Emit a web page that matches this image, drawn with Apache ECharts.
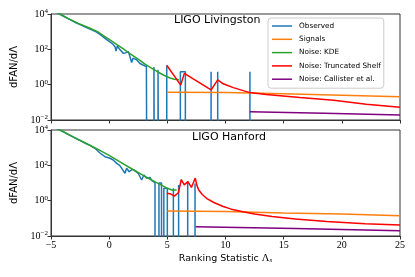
<!DOCTYPE html>
<html><head><meta charset="utf-8">
<script src="https://cdn.jsdelivr.net/npm/echarts@6/dist/echarts.min.js"></script>
<style>html,body{margin:0;padding:0;background:#fff}#c{width:415px;height:277px}</style>
</head><body><div id="c"></div>
<script>
// ZERO marks an empty histogram bin (drawn as a drop below the axis, like matplotlib's clipped log of 0)
const ZERO = 1e-30;

// ---------- LIGO Livingston (top) ----------
const obsL_x = [-5,-4.5,-4,-3.5,-3,-2.5,-2,-1.5,-1.08,-0.7,-0.36,0,0.3,0.5,0.59,0.7,0.9,1.05,1.22,1.4,1.55,1.65,1.79,1.93,2.05,2.2,2.37,2.5,2.65,2.8,2.95,3.08,3.2,3.37,3.37,
  3.85,3.85,3.92,4.0,4.0, 4.2,4.2,4.37,4.37, 4.95,4.95,4.95, 6.12,6.12,6.55,6.55, 8.76,8.76,8.76, 9.33,9.33,9.33, 12.1,12.1,12.1];
const obsL_y = [17800,12000,7940,5250,3550,2510,1780,1260,955,631,417,282,200,141,79,158,100,89,59,63,79,74,38,17.8,31.6,26.3,25.1,20,15.8,14.1,12.6,11.2,10.7,10.5,ZERO,
  ZERO,10,11.2,10,ZERO, ZERO,7,7,ZERO, ZERO,12,ZERO, ZERO,5.4,5.4,ZERO, ZERO,5.4,ZERO, ZERO,5.4,ZERO, ZERO,5.4,ZERO];
const sigL_x = [5,10,15,20,25];
const sigL_y = [0.372,0.36,0.31,0.255,0.209];
const kdeL_x = [-5,-4.23,-3.5,-2.65,-1.65,-1.0,-0.5,0.07,0.6,1.22,1.65,2.2,2.65,3.08,3.6,4.15,4.7,5.23,5.6,6.0];
const kdeL_y = [18200,10000,5500,2950,1550,1000,603,339,200,107,66,38,24,14.5,8.9,5.4,3.4,2.4,2.04,1.9];
const shelfL_x = [4.95,6.15,6.46,8.76,9.33,9.8,10.67,12.1,13.5,16.4,19.3,22.1,25];
const shelfL_y = [12.6,0.95,4.37,0.5,1.86,1.12,0.68,0.355,0.28,0.19,0.132,0.079,0.052];
const callL_x = [12.1,18.5,25];
const callL_y = [0.0295,0.024,0.019];

// ---------- LIGO Hanford (bottom) ----------
const obsH_x = [-5,-4.5,-4,-3.5,-3,-2.5,-2,-1.65,-1.2,-0.79,-0.36,0.07,0.35,0.65,0.9,1.08,1.22,1.36,1.5,1.72,1.88,2.02,2.2,2.35,2.5,2.65,2.79,2.99,3.1,3.22,3.36,3.51,3.65,3.74,3.94,3.94,
  4.28,4.28,4.5,4.5, 4.7,4.7,5.0,5.0, 5.52,5.52,5.52, 5.97,5.97,5.97, 6.75,6.75,6.75, 7.38,7.38,7.38];
const obsH_y = [17800,12000,8300,5500,3700,2510,1700,1350,890,500,309,251,200,129,100,68,71,35.5,68,43.7,52.5,60,50,39.8,35.5,28.2,14.8,28.2,22.4,18.2,22.4,20.9,14.1,11.7,10.5,ZERO,
  ZERO,10,10,ZERO, ZERO,5,5,ZERO, ZERO,5,ZERO, ZERO,7.8,ZERO, ZERO,11,ZERO, ZERO,9.5,ZERO];
const sigH_x = [5,10,15,20,25];
const sigH_y = [0.263,0.24,0.2,0.174,0.141];
const kdeH_x = [-5,-4.23,-3,-2,-1,0,1,2,3,4,4.5,5,5.4,5.8];
const kdeH_y = [19000,10000,3800,1780,830,363,148,60,25,11.2,7.6,5,4,4];
const shelfH_x = [4.95,5.23,5.6,5.95,6.2,6.45,6.77,7.07,7.4,7.55,7.7,8,8.4,9,9.8,10.5,11.5,12.5,14,16,18.7,22,25];
const shelfH_y = [2.63,2.5,1.82,2.8,15.8,7.8,12,5.6,19,7.1,4,2.24,1.32,0.79,0.468,0.331,0.234,0.178,0.126,0.093,0.066,0.05,0.042];
const callH_x = [7.44,16,25];
const callH_y = [0.0339,0.0263,0.02];

const xTicks = [-5,0,5,10,15,20,25];
const yTicks = [0.01,1,100,10000];
const panelTitles = ['LIGO Livingston','LIGO Hanford'];
const names = ['Observed','Signals','Noise: KDE','Noise: Truncated Shelf','Noise: Callister et al.'];
const colors = ['#1f77b4','#ff7f0e','#2ca02c','#ff0000','#800080'];

function pairs(xs, ys){ return xs.map((x,i)=>[x, ys[i]]); }

const panels = [
  [pairs(obsL_x,obsL_y), pairs(sigL_x,sigL_y), pairs(kdeL_x,kdeL_y), pairs(shelfL_x,shelfL_y), pairs(callL_x,callL_y)],
  [pairs(obsH_x,obsH_y), pairs(sigH_x,sigH_y), pairs(kdeH_x,kdeH_y), pairs(shelfH_x,shelfH_y), pairs(callH_x,callH_y)]
];

const serif = 'Liberation Serif';
const sans = 'DejaVu Sans';
const axisCol = '#333';

function expLabel(v){
  const e = Math.round(Math.log10(v));
  return '{b|10}{e|' + (e < 0 ? '\u2212' + (-e) : e) + '}';
}

const grids = [
  {left:51, right:15, top:14, height:106, show:true, borderColor:axisCol, borderWidth:1},
  {left:51, right:15, top:130, height:106, show:true, borderColor:axisCol, borderWidth:1}
];

const xAxes = [0,1].map(i => ({
  type:'value', gridIndex:i, min:-5, max:25, interval:5,
  axisLine:{show:true, onZero:false, lineStyle:{color:axisCol, width:1}},
  axisTick:{show:true, length:3.5, lineStyle:{color:axisCol}},
  splitLine:{show:false},
  axisLabel:{show:i===1, margin:4, fontFamily:serif, fontSize:10, color:'#000',
    formatter: v => (v < 0 ? '\u2212' + (-v) : '' + v)},
  name: i===1 ? 'Ranking Statistic {m|\u039B}{s|s}' : '',
  nameLocation:'middle', nameGap:17,
  nameTextStyle:{fontFamily:sans, fontSize:9.5, color:'#000',
    rich:{m:{fontFamily:serif, fontSize:10.5, color:'#000'}, s:{fontFamily:serif, fontStyle:'italic', fontSize:7, color:'#000', verticalAlign:'bottom', lineHeight:9}}}
}));

const yAxes = [0,1].map(i => ({
  type:'log', logBase:10, gridIndex:i, min:0.01, max:10000, interval:2,
  axisLine:{show:true, onZero:false, lineStyle:{color:axisCol, width:1}},
  axisTick:{show:true, length:3.5, lineStyle:{color:axisCol}},
  minorTick:{show:false},
  splitLine:{show:false},
  axisLabel:{margin:3, formatter: expLabel,
    rich:{b:{fontFamily:serif, fontSize:10, color:'#000', lineHeight:12},
          e:{fontFamily:serif, fontSize:7, color:'#000', verticalAlign:'top', lineHeight:12}}},
  name:'dFAN/d\u039B', nameLocation:'middle', nameRotate:90, nameGap:22,
  nameTextStyle:{fontFamily:sans, fontSize:10, color:'#000'}
}));

const series = [];
panels.forEach((p, gi) => {
  p.forEach((data, si) => {
    series.push({
      type:'line', name:names[si], xAxisIndex:gi, yAxisIndex:gi, data:data,
      showSymbol:false, symbol:'none', clip:true, animation:false,
      lineStyle:{color:colors[si], width:1.5}, itemStyle:{color:colors[si]}, z:2+si
    });
  });
});

const option = {
  animation:false,
  backgroundColor:'#fff',
  grid: grids,
  xAxis: xAxes,
  yAxis: yAxes,
  title: [
    {text:panelTitles[0], left:174, top:15, padding:0, textStyle:{fontFamily:sans, fontSize:11, fontWeight:'normal', color:'#000'}},
    {text:panelTitles[1], left:192, top:132, padding:0, textStyle:{fontFamily:sans, fontSize:11, fontWeight:'normal', color:'#000'}}
  ],
  legend: {
    data: names, orient:'vertical', left:268, top:18,
    padding:[3,3,4,4], itemGap:3.3, itemWidth:20, itemHeight:1.5, icon:'rect',
    backgroundColor:'rgba(255,255,255,0.8)', borderColor:'#cccccc', borderWidth:1, borderRadius:3,
    textStyle:{fontFamily:sans, fontSize:7.3, color:'#000', lineHeight:10, padding:[0,0,0,2]},
    selectedMode:false
  },
  series: series
};

const chart = echarts.init(document.getElementById('c'), null, {renderer:'canvas'});
chart.setOption(option);
</script></body></html>
